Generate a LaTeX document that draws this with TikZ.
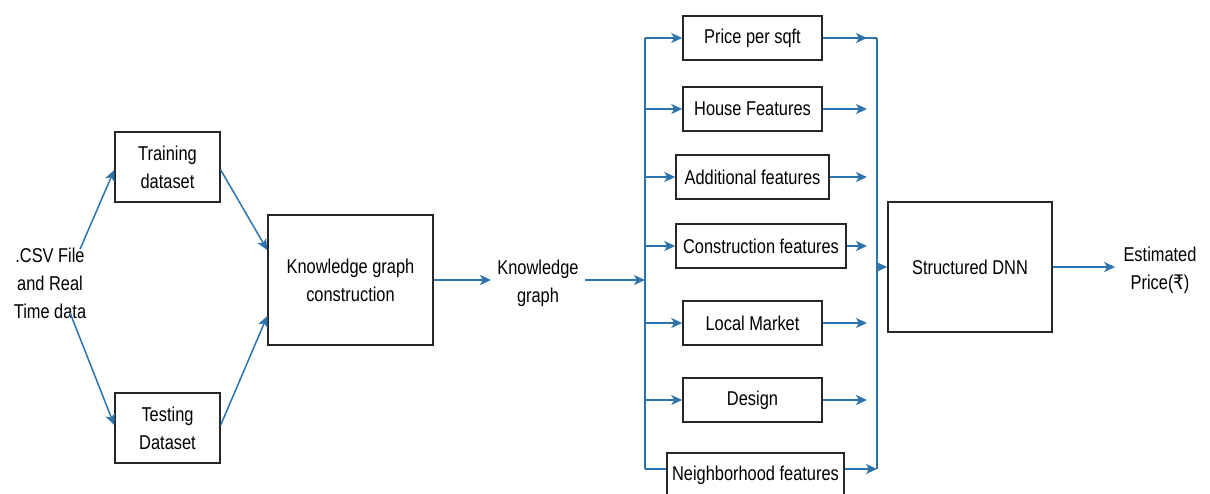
\documentclass[tikz,border=0pt]{standalone}
\usepackage{fontspec}
\setmainfont{Liberation Sans}[FakeStretch=0.82]
\newfontfamily\rupeefont{DejaVu Sans}[FakeStretch=0.82]
\usetikzlibrary{arrows.meta,calc,positioning}
\definecolor{flowblue}{RGB}{46,116,172}
\tikzset{
  box/.style={draw=black!85, line width=0.75pt, align=center, inner sep=0pt},
  lbl/.style={align=center, inner sep=0pt},
  flow/.style={draw=flowblue, line width=0.75pt},
  flowarr/.style={flow, -{Stealth[length=5.5pt,width=5pt,inset=1.5pt]}}
}
\begin{document}
\begin{tikzpicture}[x=0.5pt, y=-0.5pt, font=\fontsize{10}{14}\selectfont]
  \useasboundingbox (0,0) rectangle (1210,493);

  \node[lbl] (csv) at (50,283) {.CSV File\\and Real\\Time data};
  \node[box, minimum width=52.5pt, minimum height=35pt] (train) at (167.5,167) {Training\\dataset};
  \node[box, minimum width=52.5pt, minimum height=35pt] (test) at (167.5,428) {Testing\\Dataset};
  \node[box, minimum width=82.5pt, minimum height=65pt] (kgc) at (350.5,280) {Knowledge graph\\construction};
  \node[lbl] (kg) at (538,283) {Knowledge\\graph};

  \node[box, minimum width=69.5pt, minimum height=22pt] (price) at (752.5,38) {Price per sqft};
  \node[box, minimum width=69.5pt, minimum height=22pt] (house) at (752.5,109) {House Features};
  \node[box, minimum width=76.5pt, minimum height=22pt] (addl) at (752.5,177) {Additional features};
  \node[box, minimum width=85pt, minimum height=22pt] (constr) at (761,246) {Construction features};
  \node[box, minimum width=69.5pt, minimum height=22pt] (local) at (752.5,323) {Local Market};
  \node[box, minimum width=69.5pt, minimum height=22pt] (design) at (752.5,400) {Design};
  \node[box, minimum width=88.5pt, minimum height=22pt] (neigh) at (755.5,475) {Neighborhood features};

  \node[box, minimum width=82pt, minimum height=65pt] (dnn) at (970,267) {Structured DNN};
  \node[lbl] (est) at (1160,270) {Estimated\\Price({\rupeefont ₹})};

  \coordinate (lbus top) at (645,38);
  \coordinate (lbus bot) at (645,469);
  \coordinate (rbus top) at (877,38);
  \coordinate (rbus bot) at (877,469);

  \draw[flowarr] ($(csv.north)+(30,2)$) -- ($(train.west)+(0,3)$);
  \draw[flowarr] ($(csv.south)+(20,-6)$) -- ($(test.west)+(0,-3)$);
  \draw[flowarr] ($(train.east)+(0,3)$) -- ($(kgc.west)+(0,-30)$);
  \draw[flowarr] ($(test.east)+(0,-3)$) -- ($(kgc.west)+(0,36)$);
  \draw[flowarr] (kgc.east) -- ($(kg.west |- kgc.east)+(-6,0)$);
  \draw[flowarr] ($(kg.east |- kgc.east)+(6,0)$) -- (lbus top |- kgc.east);

  \draw[flow] (lbus top) -- (lbus bot);
  \draw[flow] (rbus top) -- (rbus bot);

  \foreach \n in {price,house,addl,constr,local,design}{
    \draw[flowarr] (lbus top |- \n.west) -- (\n.west);
  }
  \foreach \n in {price,house,addl,constr,local,design}{
    \draw[flowarr] (\n.east) -- ($(rbus top |- \n.east)+(-10,0)$);
  }
  \draw[flow] ($(rbus top)+(-12,0)$) -- (rbus top);
  \draw[flow] (lbus bot) -- ($(neigh.west)+(0,-6)$);
  \draw[flowarr] ($(neigh.east)+(0,-6)$) -- (rbus bot);

  \draw[flowarr] (rbus top |- dnn.west) -- (dnn.west);
  \draw[flowarr] (dnn.east) -- ($(est.west)+(-8,-3)$);
\end{tikzpicture}
\end{document}
